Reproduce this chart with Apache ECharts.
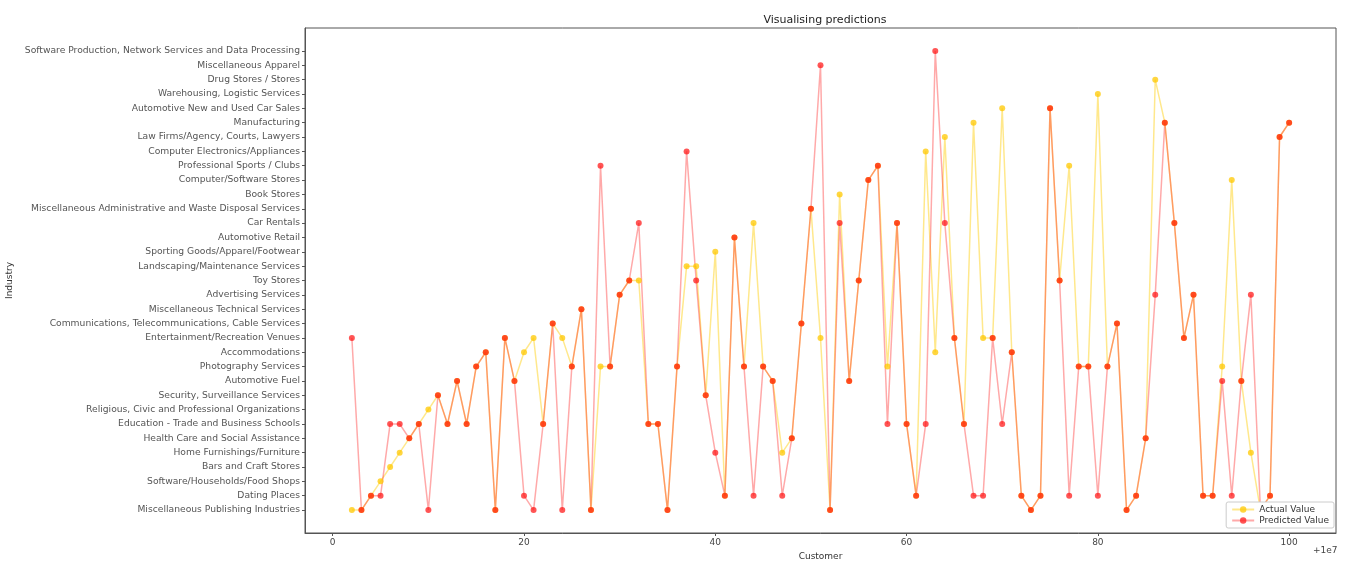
<!DOCTYPE html>
<html>
<head>
<meta charset="utf-8">
<script src="https://cdn.jsdelivr.net/npm/echarts@6/dist/echarts.min.js"></script>
<style>html,body{margin:0;padding:0;background:#fff}#c{width:1356px;height:586px}</style>
</head>
<body>
<div id="c"></div>
<script>
// Industry categories, bottom (index 0) to top
const industries = [
  "Miscellaneous Publishing Industries",
  "Dating Places",
  "Software/Households/Food Shops",
  "Bars and Craft Stores",
  "Home Furnishings/Furniture",
  "Health Care and Social Assistance",
  "Education - Trade and Business Schools",
  "Religious, Civic and Professional Organizations",
  "Security, Surveillance Services",
  "Automotive Fuel",
  "Photography Services",
  "Accommodations",
  "Entertainment/Recreation Venues",
  "Communications, Telecommunications, Cable Services",
  "Miscellaneous Technical Services",
  "Advertising Services",
  "Toy Stores",
  "Landscaping/Maintenance Services",
  "Sporting Goods/Apparel/Footwear",
  "Automotive Retail",
  "Car Rentals",
  "Miscellaneous Administrative and Waste Disposal Services",
  "Book Stores",
  "Computer/Software Stores",
  "Professional Sports / Clubs",
  "Computer Electronics/Appliances",
  "Law Firms/Agency, Courts, Lawyers",
  "Manufacturing",
  "Automotive New and Used Car Sales",
  "Warehousing, Logistic Services",
  "Drug Stores / Stores",
  "Miscellaneous Apparel",
  "Software Production, Network Services and Data Processing"
];
// Customer id offsets (x, in units of +1e7)
const customers = [2,3,4,5,6,7,8,9,10,11,12,13,14,15,16,17,18,19,20,21,22,23,24,25,26,27,28,29,30,31,32,33,34,35,36,37,38,39,40,41,42,43,44,45,46,47,48,49,50,51,52,53,54,55,56,57,58,59,60,61,62,63,64,65,66,67,68,69,70,71,72,73,74,75,76,77,78,79,80,81,82,83,84,85,86,87,88,89,90,91,92,93,94,95,96,97,98,99,100];
// industry index per customer
const actualValues = [0,0,1,2,3,4,5,6,7,8,6,9,6,10,11,0,12,9,11,12,6,13,12,10,14,0,10,10,15,16,16,6,6,0,10,17,17,8,18,1,19,10,20,10,9,4,5,13,21,12,0,22,9,16,23,24,10,20,6,1,25,11,26,12,6,27,12,12,28,11,1,0,1,28,16,24,10,10,29,10,13,0,1,5,30,27,20,12,15,1,1,10,23,9,4,0,1,26,27];
const predictedValues = [12,0,1,1,6,6,5,6,0,8,6,9,6,10,11,0,12,9,1,0,6,13,0,10,14,0,24,10,15,16,20,6,6,0,10,25,16,8,4,1,19,10,1,10,9,1,5,13,21,31,0,20,9,16,23,24,6,20,6,1,6,32,20,12,6,1,1,12,6,11,1,0,1,28,16,1,10,10,1,10,13,0,1,5,15,27,20,12,15,1,1,9,1,9,15,0,1,26,27];
const xTicks = [0,20,40,60,80,100];

const yIdx = industries.map((_, i) => i);
const chart = echarts.init(document.getElementById('c'), null, {renderer: 'canvas'});
const font = 'DejaVu Sans';
chart.setOption({
  animation: false,
  textStyle: {fontFamily: font},
  title: {
    text: 'Visualising predictions', left: 820, top: 10, textAlign: 'center',
    textStyle: {fontFamily: font, fontSize: 11, fontWeight: 'normal', color: '#222'}
  },
  grid: {left: 305, right: 20, top: 28, bottom: 53, outerBoundsMode: 'none', containLabel: false,
    show: true, borderColor: '#555', borderWidth: 1, backgroundColor: 'transparent'},
  legend: {
    orient: 'vertical', right: 22, bottom: 58,
    backgroundColor: '#fff', borderColor: '#ccc', borderWidth: 1, borderRadius: 2,
    padding: [3, 5, 3, 5], itemGap: 2, itemWidth: 22, itemHeight: 8,
    textStyle: {fontFamily: font, fontSize: 9, color: '#333'},
    data: ['Actual Value', 'Predicted Value']
  },
  xAxis: {
    type: 'value', min: -2.9, max: 104.9,
    name: 'Customer', nameLocation: 'middle', nameGap: 18,
    nameTextStyle: {fontFamily: font, fontSize: 9, color: '#333'},
    axisLine: {show: true, onZero: false, lineStyle: {color: '#555'}},
    axisTick: {show: true, customValues: xTicks, length: 3, lineStyle: {color: '#555'}},
    axisLabel: {customValues: xTicks, fontFamily: font, fontSize: 9, color: '#444', margin: 5},
    splitLine: {show: false}
  },
  yAxis: {
    type: 'value', min: -1.6, max: 33.6,
    name: 'Industry', nameLocation: 'middle', nameGap: 290,
    nameTextStyle: {fontFamily: font, fontSize: 9, color: '#333'},
    axisLine: {show: true, onZero: false, lineStyle: {color: '#555'}},
    axisTick: {show: true, customValues: yIdx, length: 3, lineStyle: {color: '#555'}},
    axisLabel: {customValues: yIdx, fontFamily: font, fontSize: 9.2, color: '#555', margin: 5,
      formatter: v => industries[Math.round(v)] || ''},
    splitLine: {show: false}
  },
  graphic: [{
    type: 'text', left: 1313, top: 546,
    style: {text: '+1e7', fontFamily: font, fontSize: 9, fill: '#444'}
  }],
  series: [
    {
      name: 'Actual Value', type: 'line',
      data: customers.map((c, i) => [c, actualValues[i]]),
      symbol: 'circle', symbolSize: 6,
      lineStyle: {color: 'rgba(255,205,0,0.45)', width: 1.5},
      itemStyle: {color: 'rgba(255,200,0,0.75)'},
      emphasis: {disabled: true}
    },
    {
      name: 'Predicted Value', type: 'line',
      data: customers.map((c, i) => [c, predictedValues[i]]),
      symbol: 'circle', symbolSize: 6,
      lineStyle: {color: 'rgba(255,30,30,0.38)', width: 1.5},
      itemStyle: {color: 'rgba(255,20,20,0.72)'},
      emphasis: {disabled: true}
    }
  ]
});
</script>
</body>
</html>
